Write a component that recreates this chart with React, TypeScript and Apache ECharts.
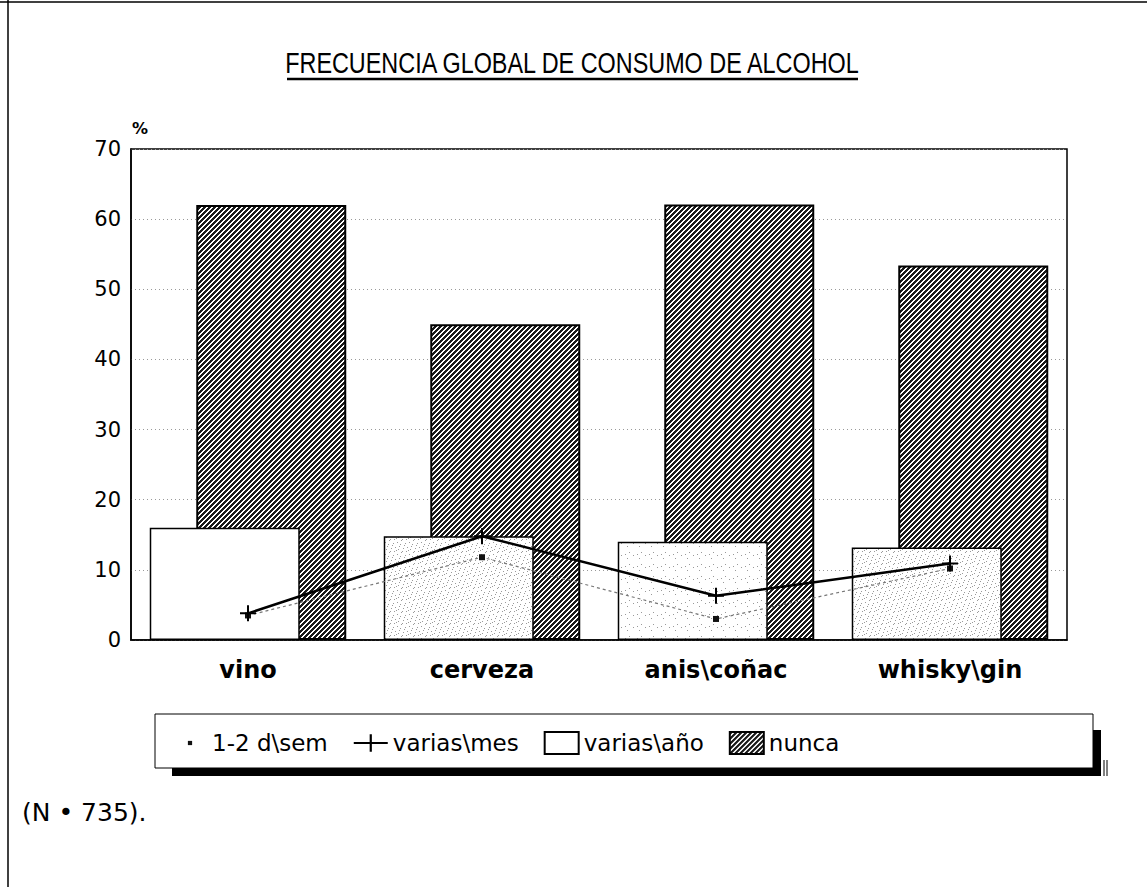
import React, { useEffect, useRef } from 'react';
import * as echarts from 'echarts';

const categories = ['vino', 'cerveza', 'anis\\coñac', 'whisky\\gin'];
const seriesNames = ['1-2 d\\sem', 'varias\\mes', 'varias\\año', 'nunca'];
const semanal = [3.5, 11.8, 3.0, 10.2];
const mensual = [3.8, 14.8, 6.3, 10.9];
const anual = [16.0, 14.8, 14.0, 13.2];
const nunca = [62.0, 45.0, 62.1, 53.4];
const yMin = 0;
const yMax = 70;
const yInterval = 10;
const titleText = 'FRECUENCIA GLOBAL DE CONSUMO DE ALCOHOL';
const noteText = '(N • 735).';
const unitText = '%';

const FONT = 'DejaVu Sans';

function makeHatch(): HTMLCanvasElement {
  const n = 5;
  const c = document.createElement('canvas');
  c.width = n;
  c.height = n;
  const ctx = c.getContext('2d')!;
  const img = ctx.createImageData(n, n);
  for (let y = 0; y < n; y++) {
    for (let x = 0; x < n; x++) {
      const dark = (x + y) % n < 3;
      const i = (y * n + x) * 4;
      const v = dark ? 25 : 255;
      img.data[i] = v; img.data[i + 1] = v; img.data[i + 2] = v; img.data[i + 3] = 255;
    }
  }
  ctx.putImageData(img, 0, 0);
  return c;
}

const stippleDots = [[1, 2], [5, 0], [9, 3], [3, 6], [7, 8], [11, 7], [0, 10], [6, 11], [10, 11], [4, 4], [8, 5], [2, 9]];
function makeStipple(count: number): HTMLCanvasElement {
  const n = 12;
  const c = document.createElement('canvas');
  c.width = n;
  c.height = n;
  const ctx = c.getContext('2d')!;
  ctx.fillStyle = '#fff';
  ctx.fillRect(0, 0, n, n);
  ctx.fillStyle = '#9a9a9a';
  stippleDots.slice(0, count).forEach(([x, y]) => ctx.fillRect(x, y, 1, 1));
  return c;
}

const plusPath = 'path://M7,0H9V7H16V9H9V16H7V9H0V7H7Z';
const dotPath = 'path://M0,0M20,20M7.6,7.6H12.4V12.4H7.6Z';

export default function App() {
  const ref = useRef<HTMLDivElement>(null);
  useEffect(() => {
    if (!ref.current) return;
    const chart = echarts.init(ref.current, null, { renderer: 'svg' });
    const hatch = { image: makeHatch(), repeat: 'repeat' };
    const stipDense = { image: makeStipple(12), repeat: 'repeat' };
    const stipLight = { image: makeStipple(4), repeat: 'repeat' };
    const anualFills: any[] = ['#ffffff', stipDense, stipLight, stipDense];

    const option: any = {
      animation: false,
      backgroundColor: '#ffffff',
      grid: {
        left: 131, top: 149, width: 936, height: 491,
        show: true, borderColor: '#000', borderWidth: 1.5, backgroundColor: 'transparent',
      },
      xAxis: {
        type: 'category',
        data: categories,
        axisTick: { show: false },
        axisLine: { lineStyle: { color: '#000', width: 1.5 } },
        axisLabel: { fontFamily: FONT, fontWeight: 'bold', fontSize: 24, color: '#000', margin: 18 },
      },
      yAxis: {
        type: 'value',
        min: yMin, max: yMax, interval: yInterval,
        axisLine: { show: true, lineStyle: { color: '#000', width: 1.5 } },
        axisTick: { show: false },
        axisLabel: { fontFamily: FONT, fontSize: 21, color: '#000', margin: 10 },
        splitLine: { lineStyle: { color: '#999', width: 1, type: [1, 3] } },
      },
      legend: {
        show: true,
        selectedMode: false,
        left: 168,
        top: 726,
        itemWidth: 34,
        itemHeight: 22,
        itemGap: 25,
        textStyle: { fontFamily: FONT, fontSize: 23, color: '#000' },
        data: [
          { name: seriesNames[0], lineStyle: { width: 0, opacity: 0 } },
          { name: seriesNames[1] },
          { name: seriesNames[2], icon: 'rect' },
          { name: seriesNames[3], icon: 'rect' },
        ],
      },
      series: [
        {
          name: seriesNames[2], type: 'bar', barWidth: 150, z: 3,
          data: anual.map((v, i) => ({ value: v, itemStyle: { color: anualFills[i] } })),
          itemStyle: { color: '#ffffff', borderColor: '#000', borderWidth: 1.5 },
        },
        {
          name: seriesNames[3], type: 'bar', barWidth: 150, barGap: '-69%', z: 2,
          data: nunca,
          itemStyle: { color: hatch, borderColor: '#000', borderWidth: 2 },
        },
        {
          name: seriesNames[0], type: 'line', data: semanal, z: 4,
          symbol: dotPath, symbolSize: 25,
          lineStyle: { color: '#777', width: 1.2, type: [3, 3] },
          itemStyle: { color: '#111' },
        },
        {
          name: seriesNames[1], type: 'line', data: mensual, z: 5,
          symbol: plusPath, symbolSize: 16,
          lineStyle: { color: '#000', width: 2.5 },
          itemStyle: { color: '#000' },
        },
      ],
      graphic: [
        { type: 'line', shape: { x1: 0, y1: 2, x2: 1147, y2: 2 }, style: { stroke: '#000', lineWidth: 1.5 } },
        { type: 'line', shape: { x1: 8, y1: 0, x2: 8, y2: 887 }, style: { stroke: '#000', lineWidth: 1.5 } },
        {
          type: 'text', x: 572, y: 63, scaleX: 0.78,
          style: { text: titleText, fontFamily: 'Liberation Sans', fontSize: 30, fill: '#000', textAlign: 'center', textVerticalAlign: 'middle' },
        },
        { type: 'line', shape: { x1: 287, y1: 79, x2: 858, y2: 79 }, style: { stroke: '#000', lineWidth: 2.5 } },
        {
          type: 'text', x: 132, y: 128,
          style: { text: unitText, fontFamily: FONT, fontWeight: 'bold', fontSize: 16, fill: '#000', textAlign: 'left', textVerticalAlign: 'middle' },
        },
        {
          type: 'text', x: 22, y: 812,
          style: { text: noteText, fontFamily: FONT, fontSize: 25, fill: '#000', textAlign: 'left', textVerticalAlign: 'middle' },
        },
        { type: 'rect', shape: { x: 155, y: 714, width: 938, height: 54 }, style: { fill: '#fff', stroke: '#000', lineWidth: 1 } },
        { type: 'rect', shape: { x: 1093, y: 730, width: 8, height: 46 }, style: { fill: '#000' } },
        { type: 'rect', shape: { x: 172, y: 768, width: 929, height: 8 }, style: { fill: '#000' } },
        { type: 'line', shape: { x1: 1104, y1: 760, x2: 1104, y2: 776 }, style: { stroke: '#000', lineWidth: 1 } },
        { type: 'line', shape: { x1: 1107, y1: 760, x2: 1107, y2: 776 }, style: { stroke: '#000', lineWidth: 1 } },
      ],
    };
    chart.setOption(option);
    return () => chart.dispose();
  }, []);
  return <div ref={ref} style={{ position: 'absolute', left: 0, top: 0, width: 1147, height: 887 }} />;
}
